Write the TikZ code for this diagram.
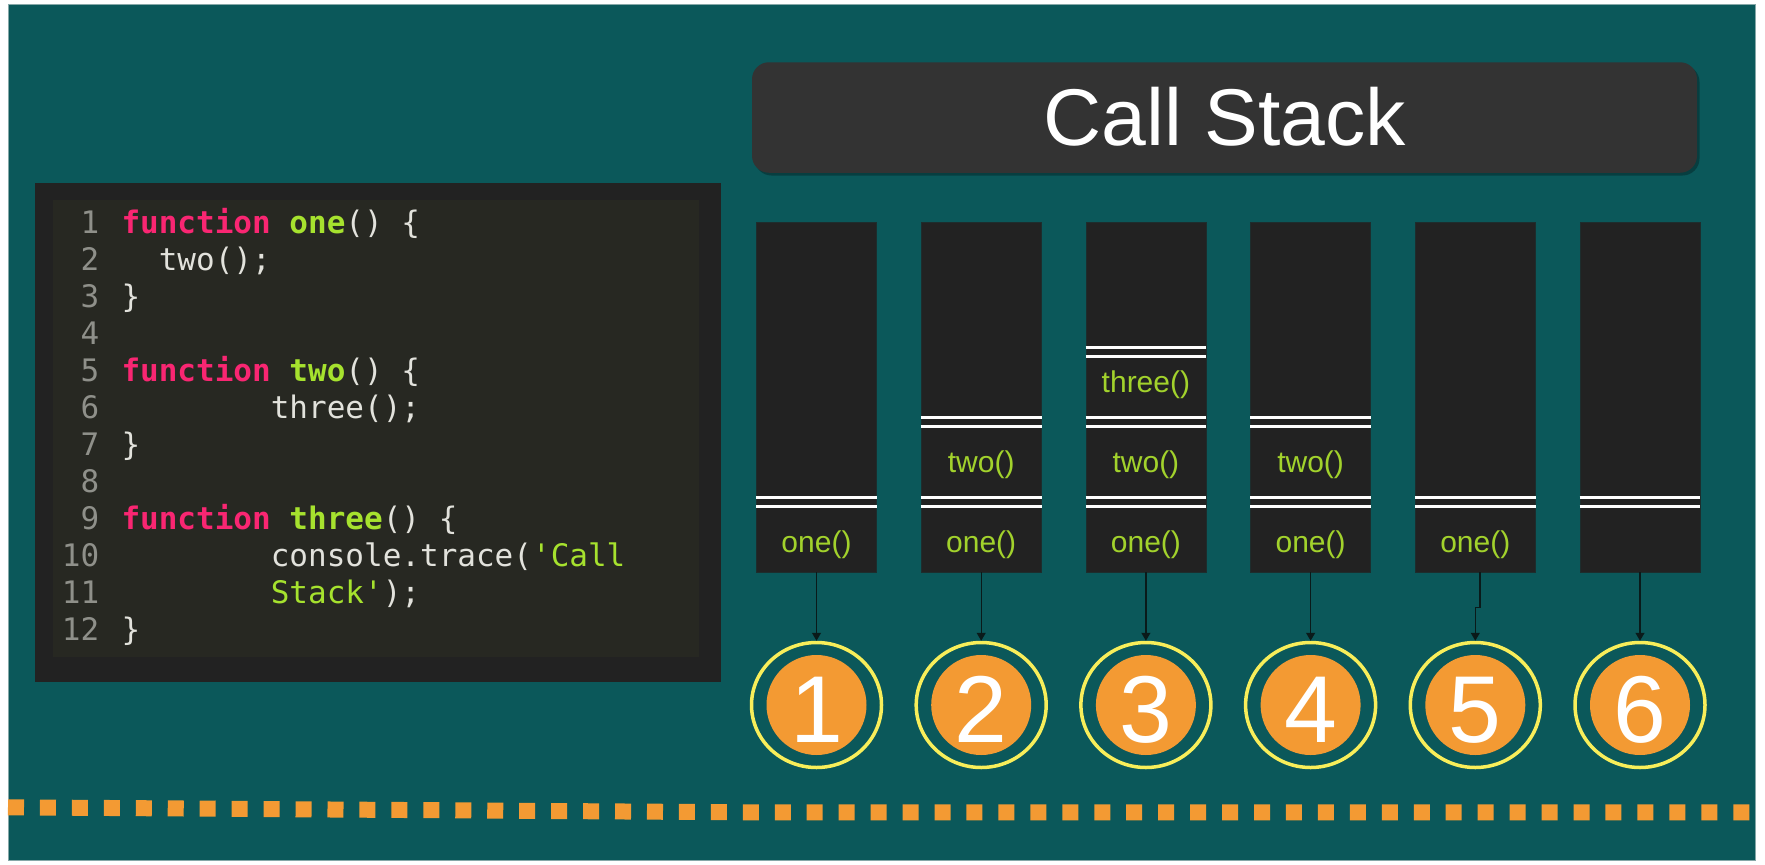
\documentclass[tikz,border=0pt]{standalone}
\usepackage{fontspec}
\setmainfont{Liberation Sans}
\newfontfamily\codefont{DejaVu Sans Mono}[Ligatures=TeXOff]
\usetikzlibrary{arrows.meta,shapes.geometric}
\definecolor{bgteal}{HTML}{0B585A}
\definecolor{bgedge}{HTML}{86A8A8}
\definecolor{codeouter}{HTML}{222222}
\definecolor{codeinner}{HTML}{272822}
\definecolor{hdrfill}{HTML}{333333}
\definecolor{hdrshadow}{HTML}{073E40}
\definecolor{colfill}{HTML}{222222}
\definecolor{stacktext}{HTML}{A2D22C}
\definecolor{kwpink}{HTML}{F92672}
\definecolor{fngreen}{HTML}{A6E22E}
\definecolor{lnogray}{HTML}{8F908A}
\definecolor{codetext}{HTML}{E2E2DC}
\definecolor{dotorange}{HTML}{F39A33}
\definecolor{ringyellow}{HTML}{F8EE5A}
\definecolor{arrowdark}{HTML}{0A1A1A}
\newcommand\kw[1]{{\bfseries\color{kwpink}#1}}
\newcommand\fn[1]{{\bfseries\color{fngreen}#1}}
\newcommand\strg[1]{{\color{fngreen}#1}}
\newcommand\seppair[2]{%
  \draw[sepline] (c#1.west |- 0,#2-4.2) -- (c#1.east |- 0,#2-4.2);
  \draw[sepline] (c#1.west |- 0,#2+4.2) -- (c#1.east |- 0,#2+4.2);}
\tikzset{
  codeline/.style={anchor=base west, inner sep=0pt, text=codetext,
    font=\codefont\fontsize{31}{37}\selectfont},
  lineno/.style={anchor=base east, inner sep=0pt, text=lnogray,
    font=\codefont\fontsize{31}{37}\selectfont},
  stackcol/.style={rectangle, fill=colfill, draw=colfill!80!bgteal, line width=0.6pt,
    minimum width=120pt, minimum height=350pt, inner sep=0pt},
  sepline/.style={draw=white, line width=2.8pt},
  frame/.style={anchor=base, inner sep=0pt, text=stacktext,
    font=\fontsize{30}{34}\selectfont},
  ring/.style={ellipse, draw=ringyellow, line width=3.5pt,
    minimum width=130pt, minimum height=125pt, inner sep=0pt},
  dot/.style={circle, fill=dotorange, minimum size=100pt, inner sep=0pt},
  num/.style={anchor=base, inner sep=0pt, text=white,
    font=\fontsize{95}{100}\selectfont},
  arr/.style={draw=arrowdark, line width=1.3pt,
    -{Triangle[width=9pt,length=8pt]}},
}
\begin{document}
\begin{tikzpicture}[x=1pt,y=-1pt]
\useasboundingbox (0,0) rectangle (1765,865);
\fill[white] (0,0) rectangle (1765,865);
\filldraw[fill=bgteal, draw=bgedge, line width=1pt] (8,4) rectangle (1755,860);

% header
\fill[hdrshadow, rounded corners=17pt] (754.5,65) rectangle (1699.5,175.5);
\node[rectangle, rounded corners=17pt, fill=hdrfill, minimum width=945pt,
  minimum height=110.5pt, inner sep=0pt] (hdr) at (1224.5,117.5) {};
\node[anchor=base, inner sep=0pt, text=white,
  font=\fontsize{80.5}{90}\selectfont] (title) at (1225,145.7) {Call Stack};

% code block
\node[rectangle, fill=codeouter, anchor=north west, minimum width=686pt,
  minimum height=499.4pt, inner sep=0pt] (codeout) at (34.3,182.3) {};
\node[rectangle, fill=codeinner, anchor=north west, minimum width=646.5pt,
  minimum height=457.4pt, inner sep=0pt] (codein) at (52.7,199.3) {};

\foreach \n in {1,...,12}{
  \node[lineno] (ln\n) at (99.5,{233.3+37.03*(\n-1)}) {\n};
}
\node[codeline] (l1) at (121.3,233.3) {\kw{function} \fn{one}() \{};
\node[codeline] (l2) at (158.6,270.3) {two();};
\node[codeline] (l3) at (121.3,307.4) {\}};
\node[codeline] (l5) at (121.3,381.4) {\kw{function} \fn{two}() \{};
\node[codeline] (l6) at (270.6,418.5) {three();};
\node[codeline] (l7) at (121.3,455.5) {\}};
\node[codeline] (l9) at (121.3,529.5) {\kw{function} \fn{three}() \{};
\node[codeline] (l10) at (270.6,566.6) {console.trace(\strg{'Call}};
\node[codeline] (l11) at (270.6,603.6) {\strg{Stack'});};
\node[codeline] (l12) at (121.3,640.7) {\}};

% stack columns
\foreach \i in {1,...,6}{
  \node[stackcol] (c\i) at ({816.5+164.7*(\i-1)},397) {};
}
\seppair{1}{502}
\seppair{2}{502}\seppair{2}{422}
\seppair{3}{502}\seppair{3}{422}\seppair{3}{352}
\seppair{4}{502}\seppair{4}{422}
\seppair{5}{502}
\seppair{6}{502}

\foreach \i in {1,...,5}{
  \node[frame] (one\i) at ({816.5+164.7*(\i-1)},552.7) {one()};
}
\foreach \i in {2,3,4}{
  \node[frame] (two\i) at ({816.5+164.7*(\i-1)},472.7) {two()};
}
\node[frame] (three3) at (1145.9,392.7) {three()};

% numbered circles
\foreach \i in {1,...,6}{
  \node[ring] (r\i) at ({816.5+164.7*(\i-1)},705) {};
  \node[dot] (d\i) at ({816.5+164.7*(\i-1)},705) {};
  \node[num] (n\i) at ({816.5+164.7*(\i-1)},742.7) {\i};
}

% connectors
\foreach \i in {1,2,3,4,6}{
  \draw[arr] (c\i.south) -- (r\i.north);
}
\draw[arr] ([xshift=4.7pt]c5.south) -- ++(0,35) -| (r5.north);

% dotted band
\draw[dotorange, line width=16pt, dash pattern=on 16pt off 15.95pt]
  (8,807.3) -- (744,812.3) -- (1751,812.3);
\end{tikzpicture}
\end{document}
